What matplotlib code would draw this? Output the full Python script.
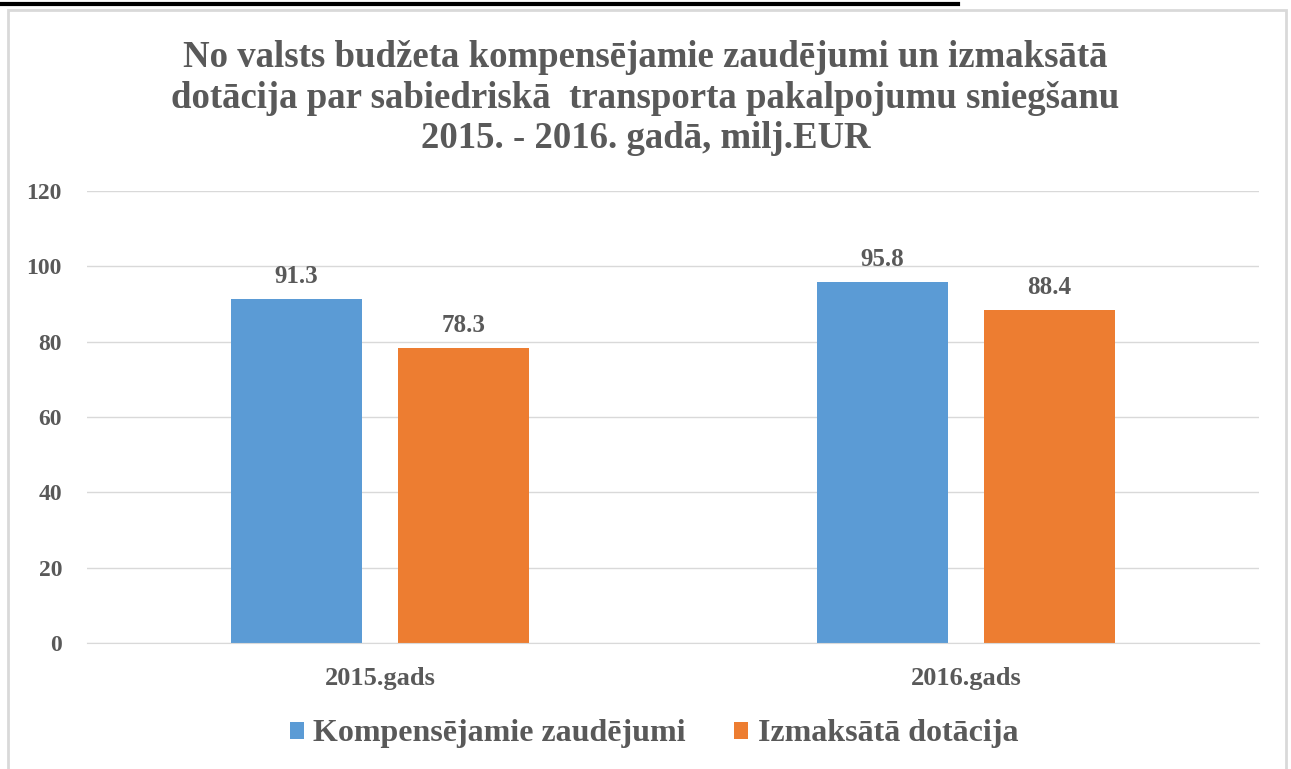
import numpy as np
import matplotlib
matplotlib.use("Agg")
import matplotlib.pyplot as plt
from matplotlib.patches import Rectangle
from matplotlib.lines import Line2D

categories = ["2015.gads", "2016.gads"]
series_names = ["Kompensējamie zaudējumi", "Izmaksātā dotācija"]
kompensejamie = [91.3, 95.8]
izmaksata = [78.3, 88.4]
yticks = [0, 20, 40, 60, 80, 100, 120]
title = ("No valsts budžeta kompensējamie zaudējumi un izmaksātā\n"
         "dotācija par sabiedriskā  transporta pakalpojumu sniegšanu\n"
         "2015. - 2016. gadā, milj.EUR")

blue = "#5B9BD5"
orange = "#ED7D31"
gray = "#595959"

plt.rcParams['font.family'] = ['Liberation Serif', 'DejaVu Serif']
plt.rcParams['font.weight'] = 'bold'

fig = plt.figure(figsize=(12.91, 7.69), dpi=100)

# black line at the very top and chart border
fig.add_artist(Line2D([0, 958 / 1291], [1 - 3.5 / 769] * 2, color="black", lw=3,
                      transform=fig.transFigure))
fig.add_artist(Rectangle((8 / 1291, -0.05), 1278 / 1291, 1.05 - 10 / 769,
                         transform=fig.transFigure, fill=False,
                         edgecolor="#d9d9d9", lw=2))

ax = fig.add_axes([87 / 1291, 126 / 769, 1172 / 1291, 452 / 769])
x = np.arange(len(categories))
w = 0.2236
off = 0.1425
b1 = ax.bar(x - off, kompensejamie, w, color=blue, label=series_names[0])
b2 = ax.bar(x + off, izmaksata, w, color=orange, label=series_names[1])

for bars in (b1, b2):
    for r in bars:
        ax.text(r.get_x() + r.get_width() / 2, r.get_height() + 3.0,
                f"{r.get_height():.1f}", ha="center", va="bottom",
                fontsize=18, color=gray, fontweight="bold")

ax.set_xlim(-0.5, 1.5)
ax.set_ylim(0, 120)
ax.set_yticks(yticks)
ax.set_xticks(x)
ax.set_xticklabels(categories)
ax.grid(axis="y", color="#d9d9d9", lw=1)
ax.set_axisbelow(True)
for s in ["top", "right", "left"]:
    ax.spines[s].set_visible(False)
ax.spines["bottom"].set_color("#d9d9d9")
ax.tick_params(length=0, labelcolor=gray)
ax.tick_params(axis="y", pad=18, labelsize=17)
ax.tick_params(axis="x", pad=17, labelsize=19)

fig.text(0.5, 1 - 98 / 769, title, ha="center", va="center",
         fontsize=26.5, color=gray, fontweight="bold", linespacing=1.2)

fig.legend(handles=[b1, b2], loc="center", bbox_to_anchor=(0.5066, 1 - 734 / 769),
           ncol=2, frameon=False, fontsize=23, handlelength=0.45, handleheight=0.45,
           handletextpad=0.3, columnspacing=1.5, labelcolor=gray)

fig.savefig("out.png", dpi=100, facecolor="white")
